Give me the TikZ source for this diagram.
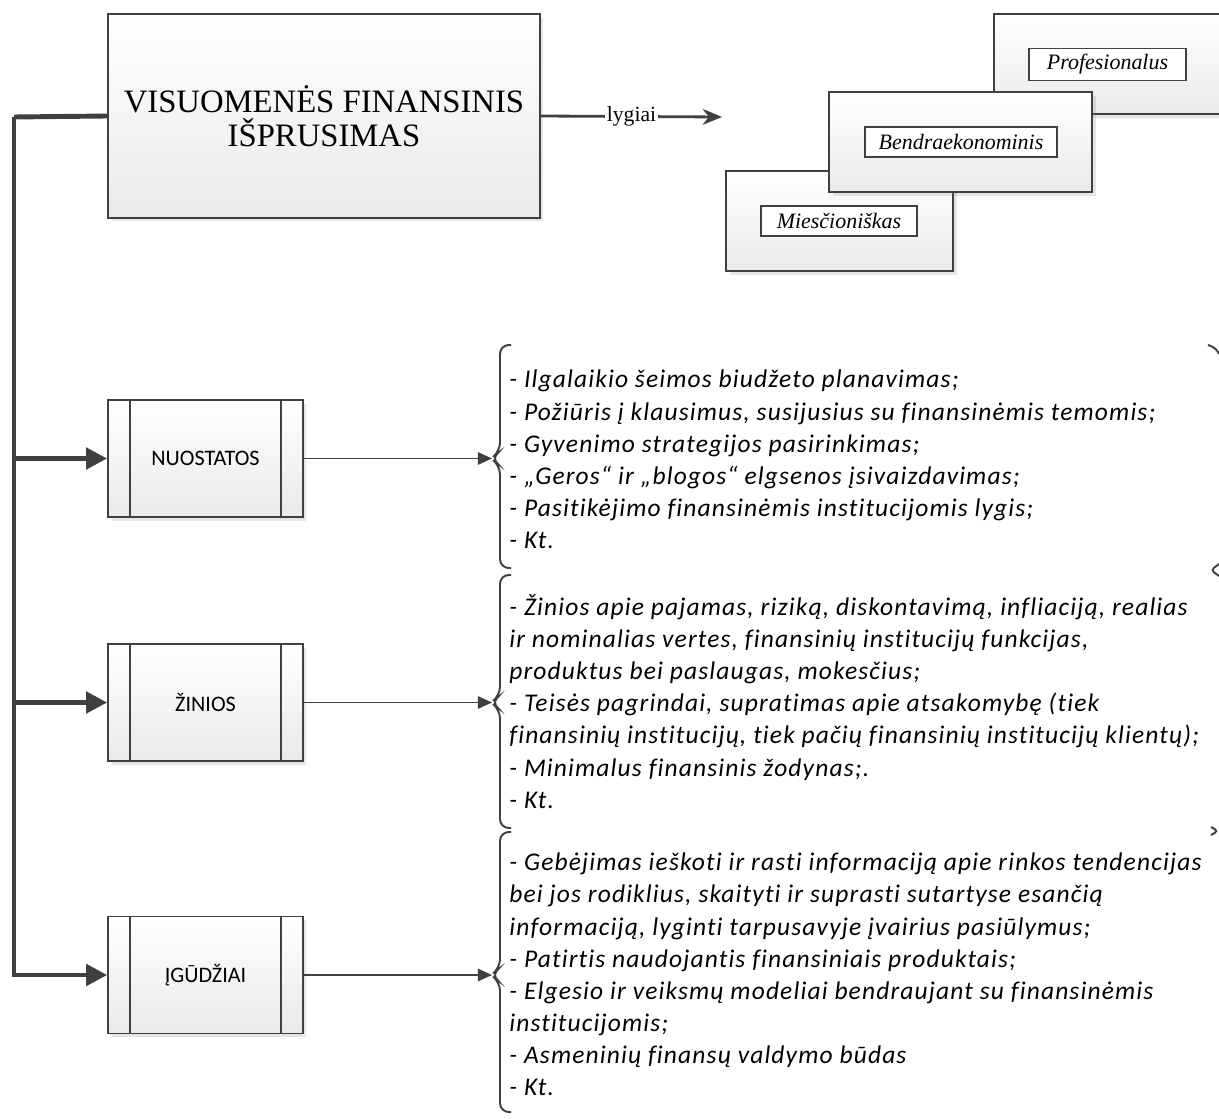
\documentclass[tikz,border=0pt]{standalone}
\usepackage{fontspec}
\setmainfont{Liberation Serif}
\newfontfamily\calibrifont{Carlito}
\newfontfamily\calibriwide[LetterSpace=4.5, Ligatures=CommonOff]{Carlito}
\usepackage{tikz}
\usetikzlibrary{arrows.meta, shadows}
\definecolor{linegray}{RGB}{64, 64, 64}
\definecolor{boxgray}{RGB}{234, 234, 234}
\definecolor{shadowgray}{RGB}{120, 120, 120}

\begin{document}
\begin{tikzpicture}[x=0.02cm, y=-0.02cm,
	softshadow/.style={drop shadow={shadow xshift=2pt, shadow yshift=-2pt, opacity=0.18, fill=shadowgray}},
	mainbox/.style={draw=linegray, line width=1.2pt, top color=white, bottom color=boxgray, softshadow, minimum width=8.64cm, minimum height=4.08cm, align=center, font=\fontsize{18.6}{19}\selectfont},
	levelbox/.style={draw=linegray, line width=1.2pt, top color=white, bottom color=boxgray, softshadow, minimum height=2cm},
	labelbox/.style={draw=linegray, line width=1pt, fill=white, minimum height=0.6cm, font=\fontsize{12.5}{14}\selectfont\itshape},
	procbox/.style={draw=linegray, line width=1pt, top color=white, bottom color=boxgray, softshadow, minimum width=3.9cm, minimum height=2.34cm, font=\calibrifont\fontsize{12.6}{14}\selectfont},
	listtext/.style={anchor=west, align=left, inner sep=0pt, font=\calibriwide\itshape\fontsize{14.5}{18.3}\selectfont},
	trunk/.style={draw=linegray, line width=2.8pt},
	trunkarrow/.style={trunk, -{Triangle[length=12pt, width=12pt]}},
	listarrow/.style={draw=linegray, line width=1.1pt, -{Triangle[length=8pt, width=7pt]}},
	lvlarrow/.style={draw=linegray, line width=1.6pt, -{Stealth[length=11pt, width=9pt]}},
	brace/.style={draw=linegray, line width=1.1pt, rounded corners=5pt}
	]
	\clip (0,0) rectangle (1219,1118);
	\fill[white] (0,0) rectangle (1219,1118);

	% pagrindinis blokas
	\node[mainbox] (main) at (324,116) {VISUOMENĖS FINANSINIS\\IŠPRUSIMAS};

	% lygiai
	\node[levelbox, minimum width=5.26cm] (prof) at (1125.5,64) {};
	\node[labelbox, minimum width=3.14cm] (proflbl) at (1107.5,64.5) {Profesionalus};
	\node[levelbox, minimum width=4.54cm] (mies) at (839.5,221) {};
	\node[labelbox, minimum width=3.12cm] (mieslbl) at (839,221) {Miesčioniškas};
	\node[levelbox, minimum width=5.26cm] (bendr) at (960.5,142) {};
	\node[labelbox, minimum width=3.84cm] (bendrlbl) at (961,142) {Bendraekonominis};

	\coordinate (lvl) at (722,117);
	\draw[lvlarrow] (main.east) -- node[fill=white, inner sep=1pt, font=\fontsize{12.3}{14}\selectfont] {lygiai} (lvl);

	% komponentai
	\node[procbox] (nuost) at (205.5,458.5) {NUOSTATOS};
	\node[procbox] (zin) at (205.5,702.5) {ŽINIOS};
	\node[procbox] (igud) at (205.5,975) {ĮGŪDŽIAI};
	\foreach \n in {nuost, zin, igud} {
		\draw[draw=linegray, line width=1pt] (\n.north west) ++(23,0) -- ++(0,117);
		\draw[draw=linegray, line width=1pt] (\n.north east) ++(-23,0) -- ++(0,117);
	}

	\coordinate (trunktop) at (14,117);
	\draw[trunk] (main.west) -- (trunktop);
	\draw[trunkarrow] (trunktop) |- (igud.west);
	\draw[trunkarrow] (trunktop |- nuost.west) -- (nuost.west);
	\draw[trunkarrow] (trunktop |- zin.west) -- (zin.west);

	% skliaustai
	\foreach \t/\m/\b/\n in {345/458.5/568/br1, 575/702.5/828/br2, 832/975/1112/br3} {
		\draw[brace] (511,\t) -- (500,\t) -- (500,\m-7) -- (491,\m) -- (500,\m+7) -- (500,\b) -- (511,\b);
		\coordinate (\n) at (492,\m);
	}
	\draw[brace, rounded corners=3pt] (1208,345) -- (1216,348) -- (1219,354);
	\draw[brace, rounded corners=2pt] (1219,564) -- (1211,570) -- (1219,576);
	\draw[brace, rounded corners=2pt] (1211,827) -- (1218,831) -- (1211,835);

	\draw[listarrow] (nuost.east) -- (br1);
	\draw[listarrow] (zin.east) -- (br2);
	\draw[listarrow] (igud.east) -- (br3);

	\node[listtext] (nuosttxt) at (509,459.5) {- Ilgalaikio šeimos biudžeto planavimas;\\
		- Požiūris į klausimus, susijusius su finansinėmis temomis;\\
		- Gyvenimo strategijos pasirinkimas;\\
		- „Geros“ ir „blogos“ elgsenos įsivaizdavimas;\\
		- Pasitikėjimo finansinėmis institucijomis lygis;\\
		- Kt.};
	\node[listtext] (zintxt) at (509,701.5) {- Žinios apie pajamas, riziką, diskontavimą, infliaciją, realias\\
		ir nominalias vertes, finansinių institucijų funkcijas,\\
		produktus bei paslaugas, mokesčius;\\
		- Teisės pagrindai, supratimas apie atsakomybę (tiek\\
		finansinių institucijų, tiek pačių finansinių institucijų klientų);\\
		- Minimalus finansinis žodynas;.\\
		- Kt.};
	\node[listtext] (igudtxt) at (509,974.5) {- Gebėjimas ieškoti ir rasti informaciją apie rinkos tendencijas\\
		bei jos rodiklius, skaityti ir suprasti sutartyse esančią\\
		informaciją, lyginti tarpusavyje įvairius pasiūlymus;\\
		- Patirtis naudojantis finansiniais produktais;\\
		- Elgesio ir veiksmų modeliai bendraujant su finansinėmis\\
		institucijomis;\\
		- Asmeninių finansų valdymo būdas\\
		- Kt.};
\end{tikzpicture}
\end{document}
